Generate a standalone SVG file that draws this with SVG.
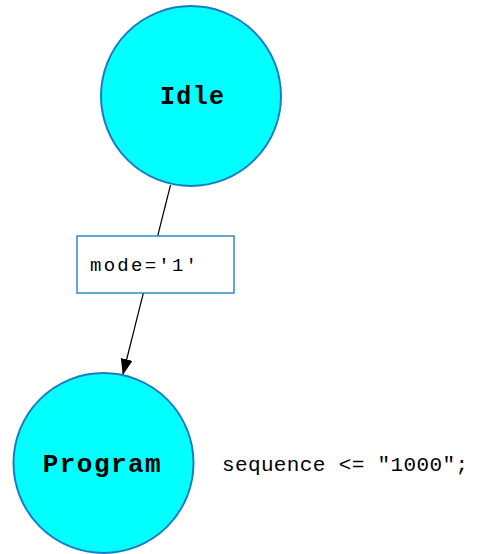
<svg xmlns="http://www.w3.org/2000/svg" width="479" height="554" viewBox="0 0 479 554">
  <style>
    .state { fill: #00ffff; stroke: #1a7cc4; stroke-width: 2; }
    .state-name { font-family: "Liberation Mono", "DejaVu Sans Mono", monospace; font-weight: bold; fill: #000; }
    .edge { stroke: #000; stroke-width: 1.2; fill: none; }
    .guard { fill: #fff; stroke: #2a8ccc; stroke-width: 1.5; }
    .code { font-family: "Liberation Mono", "DejaVu Sans Mono", monospace; fill: #000; }
  </style>
  <defs>
    <marker id="arrow" markerWidth="16" markerHeight="12" refX="15" refY="6" orient="auto" markerUnits="userSpaceOnUse">
      <path d="M0,0 L16,6 L0,12 Z" fill="#000"/>
    </marker>
  </defs>

  <rect width="479" height="554" fill="#fff"/>

  <!-- transitions -->
  <g id="connectors">
    <line class="edge" x1="170.5" y1="185" x2="123" y2="374" marker-end="url(#arrow)"/>
    <rect class="guard" x="77" y="236" width="157" height="57"/>
    <text class="code" x="90" y="271" font-size="19" textLength="107" lengthAdjust="spacing">mode='1'</text>
  </g>

  <!-- states -->
  <g id="idle">
    <circle class="state" cx="191" cy="96" r="90"/>
    <text class="state-name" x="192" y="104" font-size="25" text-anchor="middle" textLength="64" lengthAdjust="spacing">Idle</text>
  </g>

  <g id="program">
    <circle class="state" cx="103.5" cy="463" r="90"/>
    <text class="state-name" x="101.7" y="472" font-size="26" text-anchor="middle" textLength="118" lengthAdjust="spacing">Program</text>
    <text class="code" x="222" y="471" font-size="21" textLength="246" lengthAdjust="spacing">sequence &lt;= "1000";</text>
  </g>
</svg>
